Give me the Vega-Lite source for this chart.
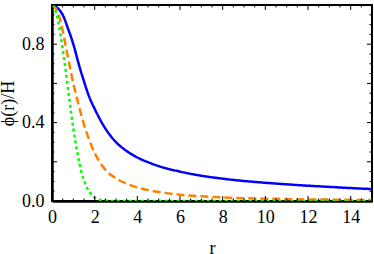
{
  "$schema": "https://vega.github.io/schema/vega-lite/v6.json",
  "width": 320,
  "height": 196,
  "autosize": {"type": "none"},
  "padding": {"left": 52, "top": 5, "right": 2, "bottom": 53},
  "config": {
    "view": {"stroke": "black", "strokeWidth": 2},
    "font": "Liberation Serif",
    "axis": {
      "labelFont": "Liberation Serif", "labelFontSize": 18, "labelColor": "black",
      "titleFont": "Liberation Serif", "titleFontSize": 18, "titleFontWeight": "normal", "titleColor": "black",
      "ticks": false, "grid": false, "domain": true, "domainColor": "black", "domainWidth": 2.5,
      "labelOverlap": false, "labelFlush": false
    }
  },
  "datasets": {
    "curves": [
      {"r": 0, "v": 1.0, "s": "1"},
      {"r": 0.25, "v": 0.985, "s": "1"},
      {"r": 0.5, "v": 0.95, "s": "1"},
      {"r": 0.75, "v": 0.88, "s": "1"},
      {"r": 1.0, "v": 0.8, "s": "1"},
      {"r": 1.25, "v": 0.7, "s": "1"},
      {"r": 1.5, "v": 0.61, "s": "1"},
      {"r": 1.75, "v": 0.53, "s": "1"},
      {"r": 2.0, "v": 0.47, "s": "1"},
      {"r": 2.5, "v": 0.37, "s": "1"},
      {"r": 3.0, "v": 0.3, "s": "1"},
      {"r": 3.5, "v": 0.255, "s": "1"},
      {"r": 4.0, "v": 0.222, "s": "1"},
      {"r": 4.5, "v": 0.198, "s": "1"},
      {"r": 5.0, "v": 0.178, "s": "1"},
      {"r": 6.0, "v": 0.15, "s": "1"},
      {"r": 7.0, "v": 0.129, "s": "1"},
      {"r": 8.0, "v": 0.114, "s": "1"},
      {"r": 9.0, "v": 0.102, "s": "1"},
      {"r": 10.0, "v": 0.093, "s": "1"},
      {"r": 11.0, "v": 0.085, "s": "1"},
      {"r": 12.0, "v": 0.078, "s": "1"},
      {"r": 13.0, "v": 0.072, "s": "1"},
      {"r": 14.0, "v": 0.066, "s": "1"},
      {"r": 15.0, "v": 0.061, "s": "1"},
      {"r": 0, "v": 1.0, "s": "2"},
      {"r": 0.25, "v": 0.97, "s": "2"},
      {"r": 0.5, "v": 0.87, "s": "2"},
      {"r": 0.75, "v": 0.73, "s": "2"},
      {"r": 1.0, "v": 0.6, "s": "2"},
      {"r": 1.25, "v": 0.49, "s": "2"},
      {"r": 1.5, "v": 0.39, "s": "2"},
      {"r": 1.75, "v": 0.31, "s": "2"},
      {"r": 2.0, "v": 0.245, "s": "2"},
      {"r": 2.5, "v": 0.16, "s": "2"},
      {"r": 3.0, "v": 0.115, "s": "2"},
      {"r": 3.5, "v": 0.088, "s": "2"},
      {"r": 4.0, "v": 0.069, "s": "2"},
      {"r": 4.5, "v": 0.056, "s": "2"},
      {"r": 5.0, "v": 0.046, "s": "2"},
      {"r": 6.0, "v": 0.032, "s": "2"},
      {"r": 7.0, "v": 0.024, "s": "2"},
      {"r": 8.0, "v": 0.018, "s": "2"},
      {"r": 9.0, "v": 0.014, "s": "2"},
      {"r": 10.0, "v": 0.012, "s": "2"},
      {"r": 11.0, "v": 0.01, "s": "2"},
      {"r": 12.0, "v": 0.008, "s": "2"},
      {"r": 13.0, "v": 0.007, "s": "2"},
      {"r": 14.0, "v": 0.006, "s": "2"},
      {"r": 15.0, "v": 0.005, "s": "2"},
      {"r": 0, "v": 1.0, "s": "3"},
      {"r": 0.2, "v": 0.96, "s": "3"},
      {"r": 0.4, "v": 0.85, "s": "3"},
      {"r": 0.6, "v": 0.7, "s": "3"},
      {"r": 0.8, "v": 0.53, "s": "3"},
      {"r": 1.0, "v": 0.37, "s": "3"},
      {"r": 1.2, "v": 0.24, "s": "3"},
      {"r": 1.4, "v": 0.14, "s": "3"},
      {"r": 1.6, "v": 0.078, "s": "3"},
      {"r": 1.8, "v": 0.039, "s": "3"},
      {"r": 2.0, "v": 0.018, "s": "3"},
      {"r": 2.2, "v": 0.008, "s": "3"},
      {"r": 2.5, "v": 0.002, "s": "3"},
      {"r": 3.0, "v": 0.0, "s": "3"},
      {"r": 15.0, "v": 0.0, "s": "3"}
    ],
    "xt": [
      {"t": 0, "k": "major"}, {"t": 0.5, "k": "minor"}, {"t": 1, "k": "minor"}, {"t": 1.5, "k": "minor"},
      {"t": 2, "k": "major"}, {"t": 2.5, "k": "minor"}, {"t": 3, "k": "minor"}, {"t": 3.5, "k": "minor"},
      {"t": 4, "k": "major"}, {"t": 4.5, "k": "minor"}, {"t": 5, "k": "minor"}, {"t": 5.5, "k": "minor"},
      {"t": 6, "k": "major"}, {"t": 6.5, "k": "minor"}, {"t": 7, "k": "minor"}, {"t": 7.5, "k": "minor"},
      {"t": 8, "k": "major"}, {"t": 8.5, "k": "minor"}, {"t": 9, "k": "minor"}, {"t": 9.5, "k": "minor"},
      {"t": 10, "k": "major"}, {"t": 10.5, "k": "minor"}, {"t": 11, "k": "minor"}, {"t": 11.5, "k": "minor"},
      {"t": 12, "k": "major"}, {"t": 12.5, "k": "minor"}, {"t": 13, "k": "minor"}, {"t": 13.5, "k": "minor"},
      {"t": 14, "k": "major"}, {"t": 14.5, "k": "minor"}, {"t": 15, "k": "minor"}
    ],
    "yt": [
      {"t": 0, "k": "major"}, {"t": 0.05, "k": "minor"}, {"t": 0.1, "k": "minor"}, {"t": 0.15, "k": "minor"},
      {"t": 0.2, "k": "major"}, {"t": 0.25, "k": "minor"}, {"t": 0.3, "k": "minor"}, {"t": 0.35, "k": "minor"},
      {"t": 0.4, "k": "major"}, {"t": 0.45, "k": "minor"}, {"t": 0.5, "k": "minor"}, {"t": 0.55, "k": "minor"},
      {"t": 0.6, "k": "major"}, {"t": 0.65, "k": "minor"}, {"t": 0.7, "k": "minor"}, {"t": 0.75, "k": "minor"},
      {"t": 0.8, "k": "major"}, {"t": 0.85, "k": "minor"}, {"t": 0.9, "k": "minor"}, {"t": 0.95, "k": "minor"},
      {"t": 1, "k": "major"}
    ]
  },
  "layer": [
    {
      "data": {"name": "curves"},
      "mark": {"type": "line", "strokeWidth": 2.5, "clip": true, "interpolate": "monotone"},
      "encoding": {
        "x": {
          "field": "r", "type": "quantitative",
          "scale": {"domain": [0, 15], "nice": false, "zero": false},
          "axis": {
            "orient": "bottom",
            "values": [0, 2, 4, 6, 8, 10, 12, 14],
            "format": "d",
            "ticks": false, "grid": false,
            "domain": true, "domainColor": "black", "domainWidth": 2.5,
            "labelFont": "Liberation Serif", "labelFontSize": 18, "labelColor": "black",
            "labelPadding": 7, "labelFlush": false, "labelOverlap": false, "labelBound": false,
            "title": "r", "titleFont": "Liberation Serif", "titleFontSize": 18,
            "titleFontWeight": "normal", "titleColor": "black", "titlePadding": 13
          }
        },
        "y": {
          "field": "v", "type": "quantitative",
          "scale": {"domain": [0, 1], "nice": false},
          "axis": {
            "orient": "left",
            "values": [0, 0.2, 0.4, 0.6, 0.8, 1],
            "format": ".1f",
            "ticks": false, "grid": false,
            "domain": true, "domainColor": "black", "domainWidth": 2.5,
            "labelFont": "Liberation Serif", "labelFontSize": 18, "labelColor": "black",
            "labelPadding": 8, "labelFlush": false, "labelOverlap": false, "labelBound": false,
            "title": "ϕ(r)/H", "titleFont": "Liberation Serif", "titleFontSize": 18,
            "titleFontWeight": "normal", "titleColor": "black", "titlePadding": 4
          }
        },
        "color": {
          "field": "s", "type": "nominal",
          "scale": {"domain": ["1", "2", "3"], "range": ["#0000FF", "#FF8000", "#00FF00"]},
          "legend": null
        },
        "strokeDash": {
          "field": "s", "type": "nominal",
          "scale": {"domain": ["1", "2", "3"], "range": [[1, 0], [8, 4], [3, 3]]},
          "legend": null
        }
      }
    },
    {
      "data": {"name": "xt"},
      "mark": {"type": "tick", "orient": "vertical", "thickness": 1, "color": "black", "clip": true, "opacity": 1},
      "encoding": {
        "x": {"field": "t", "type": "quantitative"},
        "y": {"datum": 0, "type": "quantitative"},
        "size": {"field": "k", "type": "ordinal", "scale": {"domain": ["major", "minor"], "range": [10, 5]}, "legend": null}
      }
    },
    {
      "data": {"name": "xt"},
      "mark": {"type": "tick", "orient": "vertical", "thickness": 1, "color": "black", "clip": true, "opacity": 1},
      "encoding": {
        "x": {"field": "t", "type": "quantitative"},
        "y": {"datum": 1, "type": "quantitative"},
        "size": {"field": "k", "type": "ordinal", "scale": {"domain": ["major", "minor"], "range": [10, 5]}, "legend": null}
      }
    },
    {
      "data": {"name": "yt"},
      "mark": {"type": "tick", "orient": "horizontal", "thickness": 1, "color": "black", "clip": true, "opacity": 1},
      "encoding": {
        "y": {"field": "t", "type": "quantitative"},
        "x": {"datum": 0, "type": "quantitative"},
        "size": {"field": "k", "type": "ordinal", "scale": {"domain": ["major", "minor"], "range": [10, 5]}, "legend": null}
      }
    },
    {
      "data": {"name": "yt"},
      "mark": {"type": "tick", "orient": "horizontal", "thickness": 1, "color": "black", "clip": true, "opacity": 1},
      "encoding": {
        "y": {"field": "t", "type": "quantitative"},
        "x": {"datum": 15, "type": "quantitative"},
        "size": {"field": "k", "type": "ordinal", "scale": {"domain": ["major", "minor"], "range": [10, 5]}, "legend": null}
      }
    }
  ]
}
